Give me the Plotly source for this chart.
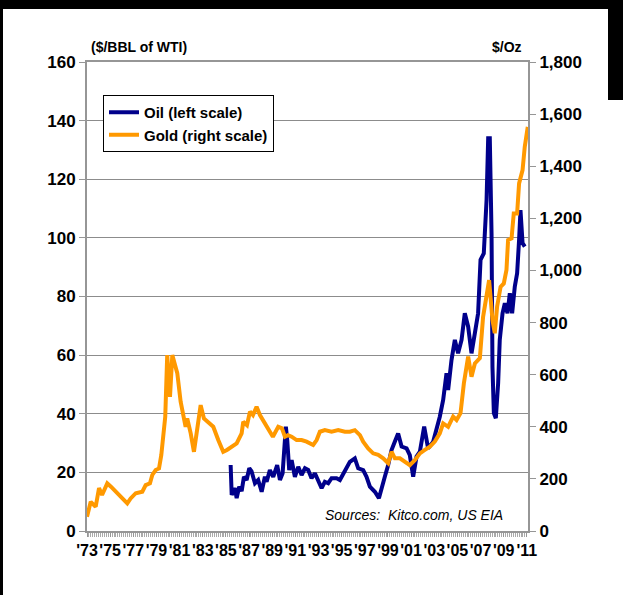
import plotly.graph_objects as go

# Gold, US$/oz (right scale) - decimal year and price
gold_year = [1973.00, 1973.32, 1973.75, 1974.04, 1974.30, 1974.75, 1975.07, 1975.48, 1975.91,
             1976.48, 1976.77, 1977.21, 1977.78, 1978.07, 1978.44, 1978.64, 1978.93, 1979.22,
             1979.42, 1979.59, 1979.76, 1979.93, 1980.17, 1980.37, 1980.80, 1981.09, 1981.38,
             1981.52, 1981.66, 1981.96, 1982.24, 1982.53, 1982.82, 1983.10, 1983.54, 1983.91,
             1984.34, 1984.77, 1985.09, 1985.50, 1985.93, 1986.36, 1986.50, 1986.82, 1987.08,
             1987.34, 1987.65, 1987.94, 1988.37, 1988.80, 1989.06, 1989.52, 1989.84, 1990.10,
             1990.36, 1990.68, 1991.11, 1991.54, 1991.97, 1992.54, 1992.84, 1993.12, 1993.55,
             1994.13, 1994.70, 1995.28, 1995.71, 1996.14, 1996.58, 1996.86, 1997.29, 1997.72,
             1998.16, 1998.59, 1999.02, 1999.31, 1999.60, 2000.03, 2000.46, 2000.89, 2001.32,
             2001.76, 2002.19, 2002.62, 2003.05, 2003.48, 2003.77, 2004.20, 2004.63, 2004.93,
             2005.27, 2005.56, 2005.93, 2006.22, 2006.51, 2006.94, 2007.22, 2007.52, 2007.74,
             2008.03, 2008.23, 2008.43, 2008.73, 2009.01, 2009.24, 2009.38, 2009.68, 2009.87,
             2010.16, 2010.33, 2010.63, 2010.82, 2011.08]
gold_price = [55, 112, 93, 165, 138, 183, 170, 151, 132,
              106, 125, 145, 151, 176, 183, 215, 234, 240,
              292, 388, 439, 675, 515, 675, 606, 496, 439,
              400, 432, 375, 304, 400, 483, 432, 413, 400,
              349, 304, 311, 324, 336, 375, 419, 406, 458,
              445, 477, 445, 413, 375, 362, 400, 394, 362,
              368, 362, 349, 349, 343, 330, 349, 381, 387,
              381, 387, 381, 381, 387, 368, 343, 317, 298,
              292, 279, 260, 304, 279, 279, 266, 253, 272,
              298, 311, 324, 343, 375, 413, 400, 439, 426,
              452, 567, 669, 592, 643, 663, 822, 899, 963,
              810, 759, 861, 937, 950, 1002, 1117, 1123, 1219,
              1219, 1334, 1385, 1475, 1551]

# WTI crude oil, US$/bbl (left scale)
oil_year = [1985.41, 1985.50, 1985.78, 1985.93, 1986.15, 1986.36, 1986.56, 1986.79, 1987.02,
            1987.22, 1987.51, 1987.79, 1988.09, 1988.37, 1988.52, 1988.80, 1989.09, 1989.43,
            1989.67, 1989.90, 1990.18, 1990.30, 1990.47, 1990.68, 1990.96, 1991.25, 1991.54,
            1991.83, 1992.11, 1992.40, 1992.69, 1992.97, 1993.27, 1993.55, 1993.84, 1994.13,
            1994.56, 1994.85, 1995.28, 1995.71, 1996.14, 1996.43, 1996.86, 1997.15, 1997.44,
            1997.87, 1998.22, 1998.45, 1998.73, 1999.02, 1999.31, 1999.60, 1999.88, 2000.18,
            2000.61, 2000.89, 2001.18, 2001.47, 2001.76, 2002.13, 2002.47, 2002.91, 2003.20,
            2003.48, 2003.77, 2004.06, 2004.20, 2004.49, 2004.78, 2005.06, 2005.36, 2005.64,
            2005.93, 2006.22, 2006.51, 2006.79, 2007.00, 2007.28, 2007.52, 2007.66, 2007.80,
            2007.95, 2008.03, 2008.15, 2008.32, 2008.52, 2008.66, 2008.90, 2009.10, 2009.33,
            2009.53, 2009.73, 2009.96, 2010.16, 2010.33, 2010.45, 2010.63, 2010.82]
oil_price = [22.5, 12.3, 14.6, 11.2, 15.1, 13.6, 18.5, 17.4, 21.4,
             20.3, 16.3, 17.4, 13.4, 18.5, 16.8, 20.8, 18.5, 22.5,
             17.4, 19.7, 35.6, 31.0, 20.8, 24.2, 18.5, 21.9, 19.1,
             21.4, 20.8, 18.0, 19.7, 17.4, 14.6, 16.8, 16.3, 18.0,
             18.0, 17.4, 20.2, 23.6, 24.8, 21.4, 20.8, 18.5, 15.1,
             13.4, 11.2, 15.1, 18.5, 22.5, 27.6, 30.5, 33.3, 28.8,
             28.2, 25.9, 18.5, 25.4, 27.1, 35.6, 28.2, 30.5, 34.5,
             39.0, 44.7, 53.8, 48.1, 58.3, 65.2, 60.6, 65.2, 74.3,
             69.7, 60.6, 67.5, 74.3, 92.5, 94.7, 112.9, 134.0, 134.0,
             101.6, 56.0, 40.2, 38.5, 50.4, 65.2, 74.3, 77.7, 74.3,
             81.1, 74.3, 83.4, 87.9, 99.3, 109.5, 98.2, 97.0]

# Year labels along the bottom axis
tick_years = list(range(1973, 2012, 2))
tick_text = ["'" + str(y)[2:] for y in tick_years]

FONT = "Liberation Sans, Arial, Helvetica, sans-serif"
GRID = "#8c8c8c"
AXIS = "#969696"

fig = go.Figure()
fig.add_trace(go.Scatter(x=oil_year, y=oil_price, name="Oil (left scale)", mode="lines",
                         line=dict(color="#00008B", width=4), yaxis="y"))
fig.add_trace(go.Scatter(x=gold_year, y=gold_price, name="Gold (right scale)", mode="lines",
                         line=dict(color="#FF9900", width=4), yaxis="y2"))

L, R, T, B = 87, 528, 62, 531
W, H = 623, 595
pw, ph = R - L, B - T


def px(x):
    return (x - L) / pw


def py(y):
    return (B - y) / ph


fig.update_layout(
    width=W, height=H,
    margin=dict(l=L, r=W - R, t=T, b=H - B, pad=0),
    paper_bgcolor="white", plot_bgcolor="white",
    font=dict(family=FONT, color="black"),
    showlegend=True,
    legend=dict(x=px(103), y=py(95), xanchor="left", yanchor="top",
                bgcolor="white", bordercolor="black", borderwidth=1,
                font=dict(size=15, family=FONT, weight="bold"),
                tracegroupgap=0, itemwidth=30),
    xaxis=dict(range=[1973, 2011.1], tickvals=tick_years, ticktext=tick_text,
               tickfont=dict(size=16, weight="bold"), tickangle=0, ticks="outside",
               ticklen=4, tickcolor=AXIS, showgrid=False, zeroline=False,
               showline=True, linecolor=AXIS, linewidth=2, mirror=True,
               minor=dict(ticks="outside", dtick=1 / 6, tick0=1973, ticklen=4,
                          tickcolor="#aaaaaa", tickwidth=1, showgrid=False)),
    yaxis=dict(range=[0, 160], dtick=20, tickfont=dict(size=17, weight="bold"),
               ticks="outside", ticklen=6, tickcolor=AXIS, showgrid=True,
               gridcolor=GRID, gridwidth=1, zeroline=False,
               showline=True, linecolor=AXIS, linewidth=2, mirror=True),
    yaxis2=dict(range=[0, 1800], dtick=200, tickformat=",", overlaying="y", side="right",
                tickfont=dict(size=17, weight="bold"), ticks="outside", ticklen=6,
                tickcolor=AXIS, showgrid=False, zeroline=False, showline=True,
                linecolor=AXIS, linewidth=2),
    annotations=[
        dict(text="($/BBL of WTI)", x=px(89), y=py(47), xref="paper", yref="paper",
             xanchor="left", yanchor="middle", showarrow=False,
             font=dict(size=14, weight="bold")),
        dict(text="$/Oz", x=px(524), y=py(47), xref="paper", yref="paper",
             xanchor="right", yanchor="middle", showarrow=False,
             font=dict(size=14, weight="bold")),
        dict(text="Sources:  Kitco.com, US EIA", x=px(505), y=py(515), xref="paper",
             yref="paper", xanchor="right", yanchor="middle", showarrow=False,
             font=dict(size=14, style="italic")),
    ],
    shapes=[
        # black frame strips around the page
        dict(type="rect", xref="paper", yref="paper", x0=px(0), x1=px(W), y0=py(9), y1=py(0),
             fillcolor="black", line=dict(width=0), layer="above"),
        dict(type="rect", xref="paper", yref="paper", x0=px(0), x1=px(3), y0=py(H), y1=py(0),
             fillcolor="black", line=dict(width=0), layer="above"),
        dict(type="rect", xref="paper", yref="paper", x0=px(608), x1=px(W), y0=py(100), y1=py(0),
             fillcolor="black", line=dict(width=0), layer="above"),
    ],
)

fig.write_html("out.html")
